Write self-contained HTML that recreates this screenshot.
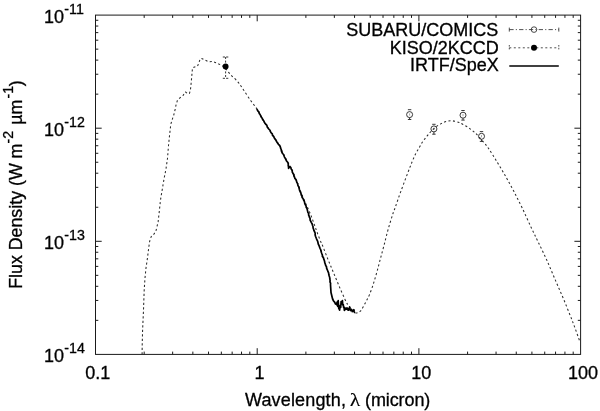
<!DOCTYPE html>
<html><head><meta charset="utf-8"><title>SED plot</title>
<style>html,body{margin:0;padding:0;background:#fff}svg{display:block;will-change:transform}</style></head>
<body>
<svg width="600" height="411" viewBox="0 0 600 411">
<rect width="600" height="411" fill="#fff"/>
<g fill="none" stroke="#1a1a1a" stroke-width="1">
<path d="M144.18,354.40 L144.18,351.60 M144.18,15.10 L144.18,17.90 M95.50,320.35 L98.30,320.35 M580.60,320.35 L577.80,320.35 M172.65,354.40 L172.65,351.60 M172.65,15.10 L172.65,17.90 M95.50,300.44 L98.30,300.44 M580.60,300.44 L577.80,300.44 M192.85,354.40 L192.85,351.60 M192.85,15.10 L192.85,17.90 M95.50,286.31 L98.30,286.31 M580.60,286.31 L577.80,286.31 M208.52,354.40 L208.52,351.60 M208.52,15.10 L208.52,17.90 M95.50,275.35 L98.30,275.35 M580.60,275.35 L577.80,275.35 M221.33,354.40 L221.33,351.60 M221.33,15.10 L221.33,17.90 M95.50,266.39 L98.30,266.39 M580.60,266.39 L577.80,266.39 M232.15,354.40 L232.15,351.60 M232.15,15.10 L232.15,17.90 M95.50,258.82 L98.30,258.82 M580.60,258.82 L577.80,258.82 M241.53,354.40 L241.53,351.60 M241.53,15.10 L241.53,17.90 M95.50,252.26 L98.30,252.26 M580.60,252.26 L577.80,252.26 M249.80,354.40 L249.80,351.60 M249.80,15.10 L249.80,17.90 M95.50,246.48 L98.30,246.48 M580.60,246.48 L577.80,246.48 M257.20,354.40 L257.20,348.20 M257.20,15.10 L257.20,21.30 M95.50,241.30 L101.70,241.30 M580.60,241.30 L574.40,241.30 M305.88,354.40 L305.88,351.60 M305.88,15.10 L305.88,17.90 M95.50,207.25 L98.30,207.25 M580.60,207.25 L577.80,207.25 M334.35,354.40 L334.35,351.60 M334.35,15.10 L334.35,17.90 M95.50,187.34 L98.30,187.34 M580.60,187.34 L577.80,187.34 M354.55,354.40 L354.55,351.60 M354.55,15.10 L354.55,17.90 M95.50,173.21 L98.30,173.21 M580.60,173.21 L577.80,173.21 M370.22,354.40 L370.22,351.60 M370.22,15.10 L370.22,17.90 M95.50,162.25 L98.30,162.25 M580.60,162.25 L577.80,162.25 M383.03,354.40 L383.03,351.60 M383.03,15.10 L383.03,17.90 M95.50,153.29 L98.30,153.29 M580.60,153.29 L577.80,153.29 M393.85,354.40 L393.85,351.60 M393.85,15.10 L393.85,17.90 M95.50,145.72 L98.30,145.72 M580.60,145.72 L577.80,145.72 M403.23,354.40 L403.23,351.60 M403.23,15.10 L403.23,17.90 M95.50,139.16 L98.30,139.16 M580.60,139.16 L577.80,139.16 M411.50,354.40 L411.50,351.60 M411.50,15.10 L411.50,17.90 M95.50,133.38 L98.30,133.38 M580.60,133.38 L577.80,133.38 M418.90,354.40 L418.90,348.20 M418.90,15.10 L418.90,21.30 M95.50,128.20 L101.70,128.20 M580.60,128.20 L574.40,128.20 M467.58,354.40 L467.58,351.60 M467.58,15.10 L467.58,17.90 M95.50,94.15 L98.30,94.15 M580.60,94.15 L577.80,94.15 M496.05,354.40 L496.05,351.60 M496.05,15.10 L496.05,17.90 M95.50,74.24 L98.30,74.24 M580.60,74.24 L577.80,74.24 M516.25,354.40 L516.25,351.60 M516.25,15.10 L516.25,17.90 M95.50,60.11 L98.30,60.11 M580.60,60.11 L577.80,60.11 M531.92,354.40 L531.92,351.60 M531.92,15.10 L531.92,17.90 M95.50,49.15 L98.30,49.15 M580.60,49.15 L577.80,49.15 M544.73,354.40 L544.73,351.60 M544.73,15.10 L544.73,17.90 M95.50,40.19 L98.30,40.19 M580.60,40.19 L577.80,40.19 M555.55,354.40 L555.55,351.60 M555.55,15.10 L555.55,17.90 M95.50,32.62 L98.30,32.62 M580.60,32.62 L577.80,32.62 M564.93,354.40 L564.93,351.60 M564.93,15.10 L564.93,17.90 M95.50,26.06 L98.30,26.06 M580.60,26.06 L577.80,26.06 M573.20,354.40 L573.20,351.60 M573.20,15.10 L573.20,17.90 M95.50,20.28 L98.30,20.28 M580.60,20.28 L577.80,20.28"/>
<rect x="95.5" y="15.1" width="485.1" height="339.3"/>
</g>
<path d="M142.1,354.4 L142.2,345.0 L142.6,330.0 L143.5,310.0 L144.2,290.0 L145.0,278.0 L146.0,268.0 L147.4,258.4 L148.7,248.0 L149.6,241.6 L151.2,236.6 L153.9,234.2 L155.9,231.0 L156.9,227.0 L158.1,221.9 L159.1,213.1 L160.5,200.0 L161.2,195.7 L164.1,178.5 L165.9,169.5 L167.5,158.5 L168.5,145.5 L169.6,134.8 L170.8,124.3 L172.3,119.3 L173.8,115.0 L175.2,109.1 L175.9,105.5 L177.4,100.4 L179.6,98.2 L183.2,95.3 L185.4,92.0 L187.6,93.5 L189.5,93.5 L190.5,89.4 L191.3,81.4 L192.0,73.4 L192.5,67.9 L194.6,67.0 L197.5,66.2 L198.7,63.3 L199.7,60.4 L201.0,58.3 L202.2,58.7 L204.6,59.9 L208.6,61.8 L212.4,61.4 L215.2,62.4 L222.0,65.5 L225.5,68.0L225.5,68.0 C226.2,69.0 227.9,71.7 230.0,74.0 C232.1,76.3 235.5,79.1 237.8,81.8 C240.1,84.5 241.4,86.8 243.6,90.0 C245.8,93.2 248.7,97.8 251.0,101.0 C253.3,104.2 255.4,106.6 257.3,109.5 C259.2,112.4 260.4,115.1 262.2,118.2 C264.0,121.3 266.2,124.8 268.2,128.0 C270.2,131.2 272.4,134.8 274.3,137.7 C276.2,140.6 278.4,143.2 279.8,145.6 C281.2,148.0 281.6,150.1 282.6,152.2 C283.6,154.3 284.6,156.2 285.6,158.2 C286.6,160.1 287.7,162.3 288.6,163.9 C289.5,165.5 290.2,166.2 291.0,167.8 C291.8,169.4 292.6,171.3 293.5,173.5 C294.4,175.7 295.7,178.6 296.6,180.8 C297.5,183.0 298.3,184.9 299.0,186.8 C299.7,188.7 300.1,189.9 301.0,192.3 C301.9,194.7 303.3,198.2 304.6,201.1 C305.9,204.0 307.4,207.0 308.6,209.8 C309.8,212.6 310.9,215.1 311.9,217.8 C312.9,220.5 313.8,223.2 314.8,225.9 C315.8,228.6 316.6,231.0 317.7,233.9 C318.8,236.8 320.6,241.4 321.4,243.4 C322.2,245.4 321.5,242.9 322.6,245.7 C323.7,248.5 326.4,255.6 328.2,260.0 C330.0,264.4 331.6,268.0 333.4,272.4 C335.2,276.8 337.3,281.8 339.2,286.3 C341.1,290.8 343.4,296.1 345.0,299.4 C346.6,302.7 347.2,303.9 348.7,306.0 C350.2,308.1 352.4,310.6 353.8,311.8 C355.2,313.0 355.7,313.1 356.8,313.0 C357.9,312.9 359.3,312.2 360.4,311.1 C361.5,310.0 362.4,308.4 363.4,306.6 C364.4,304.8 365.5,302.5 366.5,300.5 C367.5,298.5 368.3,297.5 369.5,294.6 C370.7,291.7 372.3,287.3 373.6,283.2 C374.9,279.1 376.2,274.5 377.4,270.1 C378.6,265.7 379.7,261.3 380.9,256.9 C382.1,252.5 383.2,248.4 384.4,243.8 C385.6,239.2 386.8,234.1 388.2,229.2 C389.6,224.3 391.4,218.3 392.6,214.6 C393.8,210.9 393.9,211.2 395.3,207.2 C396.7,203.2 398.7,197.2 401.1,190.7 C403.5,184.2 407.6,173.3 409.5,168.4 C411.4,163.5 411.4,163.4 412.4,161.1 C413.4,158.8 414.2,156.7 415.3,154.5 C416.4,152.3 417.8,150.1 419.0,148.0 C420.2,145.9 421.4,143.6 422.6,141.8 C423.8,140.0 425.1,138.5 426.3,137.0 C427.5,135.5 428.7,133.9 429.9,132.6 C431.1,131.3 432.2,130.2 433.6,129.0 C435.0,127.8 436.8,126.3 438.2,125.3 C439.6,124.3 440.9,123.8 442.3,123.1 C443.7,122.4 445.2,121.8 446.7,121.4 C448.2,121.0 449.6,120.7 451.1,120.7 C452.6,120.7 454.2,121.1 455.5,121.4 C456.8,121.7 458.2,122.1 459.1,122.4 C460.0,122.7 460.0,122.8 460.8,123.2 C461.6,123.6 462.8,124.3 463.9,124.9 C465.0,125.5 466.3,126.2 467.5,127.0 C468.7,127.8 470.0,128.7 471.2,129.6 C472.4,130.5 473.6,131.5 474.8,132.6 C476.0,133.7 477.0,134.6 478.5,136.3 C480.0,138.0 482.5,140.9 483.9,142.6 C485.3,144.3 486.1,145.2 487.0,146.4 C487.9,147.6 487.8,147.2 489.4,149.6 C490.9,152.0 493.7,156.4 496.3,160.7 C498.9,165.0 502.1,170.2 505.0,175.3 C507.9,180.4 510.9,185.7 513.8,191.3 C516.7,196.9 519.7,202.7 522.6,208.8 C525.5,214.9 528.7,222.3 531.3,227.8 C533.9,233.3 535.6,236.6 538.2,242.0 C540.8,247.4 544.0,253.9 546.9,260.4 C549.8,266.9 552.8,274.1 555.7,280.9 C558.6,287.7 561.6,294.2 564.5,301.3 C567.4,308.4 570.6,316.4 573.2,323.2 C575.8,330.0 578.9,338.9 580.0,342.0" fill="none" stroke="#2a2a2a" stroke-width="1.05" stroke-dasharray="2.1 2.4" stroke-linejoin="round"/>
<path d="M257.2,109.6 L257.8,110.9 L258.8,111.9 L259.2,113.4 L260.1,114.5 L260.7,115.8 L261.3,117.1 L262.2,118.2 L262.7,119.6 L263.7,120.7 L264.2,122.0 L265.0,123.2 L265.9,124.4 L266.9,125.4 L267.2,126.9 L268.1,128.1 L269.0,129.2 L270.0,130.3 L270.5,131.6 L271.2,132.9 L272.3,133.9 L272.5,135.4 L273.7,136.4 L274.2,137.8 L275.0,139.0 L275.9,140.1 L276.6,141.5 L277.4,142.9 L278.4,144.4 L279.7,145.5 L280.3,146.8 L280.6,148.2 L281.2,149.5 L281.4,151.0 L281.9,152.3 L282.6,153.5 L283.5,154.5 L284.0,155.8 L284.5,157.1 L285.2,158.2 L285.9,159.6 L286.6,161.0 L287.6,162.2 L288.3,163.7 L288.2,165.3 L288.5,166.8 L288.6,168.4 L289.5,166.6 L290.8,167.5 L291.2,169.1 L292.2,170.4 L292.3,172.1 L293.1,173.5 L293.8,174.7 L293.9,176.0 L294.6,177.2 L294.9,178.5 L295.8,179.5 L296.4,180.7 L296.8,182.3 L297.6,183.7 L297.9,185.3 L298.7,186.8 L299.1,188.2 L299.4,189.5 L299.8,190.9 L300.4,192.2 L301.0,193.4 L301.2,194.8 L301.9,196.0 L302.1,197.4 L303.0,198.5 L303.5,199.8 L304.2,201.0 L304.6,202.3 L304.8,203.6 L305.4,204.9 L306.1,206.0 L306.2,207.4 L307.0,208.6 L307.3,209.9 L307.6,211.1 L307.9,212.4 L308.7,213.5 L308.6,214.9 L309.1,216.1 L309.5,217.4 L310.1,218.5 L310.1,220.0 L310.8,221.3 L311.4,222.6 L312.1,223.8 L312.5,225.2 L313.0,226.5 L313.1,228.0 L313.6,229.3 L314.0,230.7 L314.7,232.0 L315.2,233.3 L315.1,234.8 L315.5,236.2 L316.0,237.5 L316.5,238.8 L317.1,240.1 L317.7,241.4 L318.0,242.8 L318.3,244.2 L319.0,245.5 L319.5,246.9 L320.0,248.3 L320.7,249.6 L321.0,251.1 L321.4,252.5 L321.9,253.8 L322.4,255.0 L322.4,256.4 L323.4,257.6 L323.7,258.9 L324.2,260.1 L324.6,261.4 L324.8,262.8 L325.3,264.1 L325.7,265.5 L326.5,266.7 L326.6,268.1 L327.1,269.3 L327.6,270.5 L328.0,271.7 L328.6,272.9 L328.8,274.5 L329.2,276.0 L329.7,277.5 L329.8,279.0 L330.1,280.4 L330.0,281.9 L330.6,283.3 L330.5,284.8 L331.0,292.5 L332.6,299.0 L333.6,301.0 L334.8,302.4 L335.4,303.9 L336.0,304.1 L336.6,304.6 L337.1,302.0 L337.4,305.5 L337.7,306.3 L338.2,300.5 L338.5,305.0 L338.8,308.8 L339.2,306.5 L339.6,310.1 L339.9,307.0 L340.3,305.4 L340.7,307.5 L341.1,301.6 L341.7,304.0 L342.4,300.7 L342.8,304.8 L343.3,304.6 L343.6,307.5 L344.0,307.1 L344.4,310.5 L344.8,307.6 L345.5,309.5 L346.3,309.3 L346.9,307.9 L347.5,308.4 L347.9,310.0 L348.4,310.1 L349.0,308.8 L349.7,307.0 L350.1,309.8 L350.5,310.5 L351.2,309.3 L351.8,310.1 L352.2,311.6 L352.6,311.4 L353.2,310.3 L353.9,309.7 L354.2,311.5 L354.5,312.4" fill="none" stroke="#000" stroke-width="1.7" stroke-linejoin="round" stroke-linecap="round"/>
<g fill="none" stroke="#222" stroke-width="0.9"><path d="M407.9,109.7 h3.4 M407.9,119.5 h3.4 M409.6,117.6 V119.5"/><path d="M409.6,113.4 v2.2" stroke-opacity="0.45"/><circle cx="409.6" cy="114.6" r="3.0"/></g>
<g fill="none" stroke="#222" stroke-width="0.9"><path d="M432.2,124.3 h3.4 M432.2,134.2 h3.4 M433.9,131.9 V134.2"/><path d="M433.9,127.7 v2.2" stroke-opacity="0.45"/><circle cx="433.9" cy="128.9" r="3.0"/></g>
<g fill="none" stroke="#222" stroke-width="0.9"><path d="M461.3,110.5 h3.4 M461.3,120.1 h3.4 M463.0,118.2 V120.1"/><path d="M463.0,114.0 v2.2" stroke-opacity="0.45"/><circle cx="463.0" cy="115.2" r="3.0"/></g>
<g fill="none" stroke="#222" stroke-width="0.9"><path d="M479.8,131.6 h3.4 M479.8,141.4 h3.4 M481.5,139.3 V141.4"/><path d="M481.5,135.1 v2.2" stroke-opacity="0.45"/><circle cx="481.5" cy="136.3" r="3.0"/></g>
<g stroke="#222" stroke-width="0.9" fill="none"><path d="M225.6,57.0 V78.3" stroke-dasharray="2 1.6"/><path d="M222.8,57.0 h5.5 M222.8,78.3 h5.5" stroke-dasharray="2.2 1.1"/><circle cx="225.6" cy="66.5" r="2.95" fill="#000" stroke="none"/></g>
<g fill="none" stroke="#222" stroke-width="0.8">
<path d="M509.3,29.6 H558.8" stroke-dasharray="4.3 2.2 1.1 2.2"/>
<path d="M509.3,27.6 v4 M558.8,27.6 v4"/>
<circle cx="534.0" cy="29.6" r="2.8"/>
<path d="M509.3,47.8 H558.8" stroke-dasharray="2 2.5"/>
<path d="M509.3,45 v5.6 M558.8,45 v5.6" stroke-dasharray="1.6 1.2"/>
<circle cx="534.0" cy="47.8" r="3" fill="#000" stroke="none"/>
<path d="M509.3,66 H558.8" stroke="#000" stroke-width="1.7"/>
</g>
<g font-family="Liberation Sans, sans-serif" font-size="18" fill="#000" stroke="#000" stroke-width="0.3">
<text x="498.2" y="35.6" text-anchor="end">SUBARU/COMICS</text>
<text x="498.8" y="53.5" text-anchor="end">KISO/2KCCD</text>
<text x="498.8" y="71.3" text-anchor="end">IRTF/SpeX</text>
<text x="44.0" y="23.1">10<tspan font-size="14.2" dy="-9" dx="0.3">-11</tspan></text>
<text x="44.0" y="136.2">10<tspan font-size="14.2" dy="-9" dx="0.3">-12</tspan></text>
<text x="44.0" y="249.3">10<tspan font-size="14.2" dy="-9" dx="0.3">-13</tspan></text>
<text x="44.0" y="362.4">10<tspan font-size="14.2" dy="-9" dx="0.3">-14</tspan></text>
<text x="97.8" y="378.6" text-anchor="middle">0.1</text>
<text x="259.5" y="378.6" text-anchor="middle">1</text>
<text x="421.2" y="378.6" text-anchor="middle">10</text>
<text x="582.9" y="378.6" text-anchor="middle">100</text>
<text x="244.9" y="405.6" letter-spacing="0.17">Wavelength,</text>
<text transform="translate(355,405.6) scale(1.14,1)" text-anchor="middle" font-family="Liberation Serif, serif" font-size="19" stroke-width="0.1">λ</text>
<text x="365.0" y="405.6" letter-spacing="-0.1">(micron)</text>
<text transform="translate(22.2,288.8) rotate(-90)" font-size="17.8">Flux Density (W m<tspan font-size="14.2" dy="-9">-2</tspan><tspan dy="9" dx="1.2"> µm</tspan><tspan font-size="14.2" dy="-9" dx="1.3">-1</tspan><tspan dy="9" dx="-0.5">)</tspan></text>
</g>
</svg>
</body></html>
